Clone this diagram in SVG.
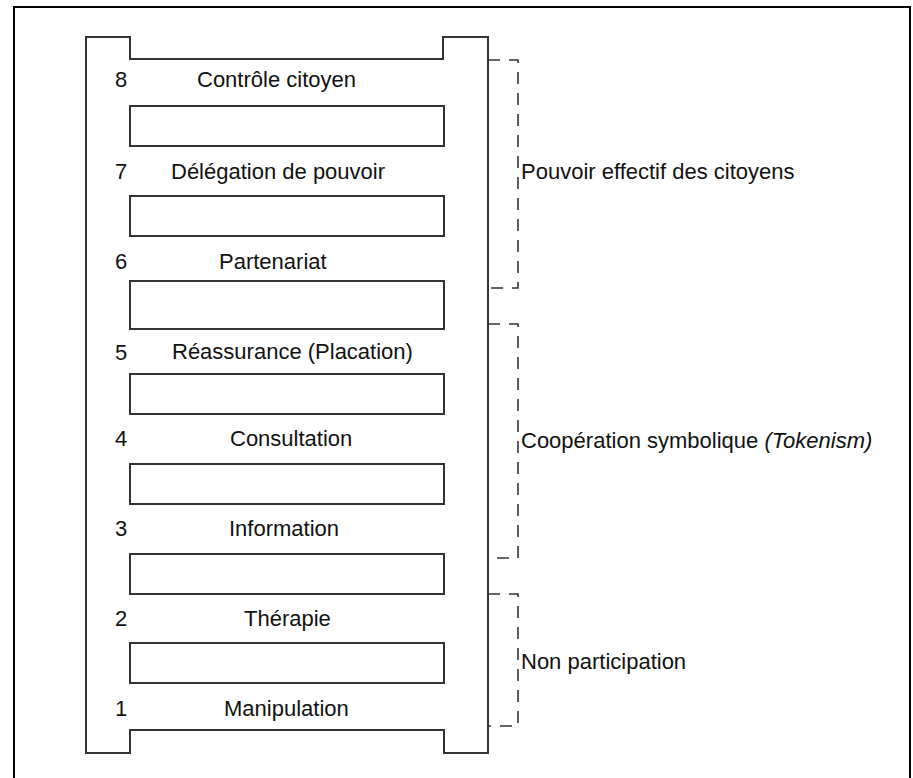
<svg xmlns="http://www.w3.org/2000/svg" width="913" height="778" viewBox="0 0 913 778">
  <style>
    .frame { fill: none; stroke: #000; stroke-width: 2; }
    .rail { fill: none; stroke: #333; stroke-width: 2; }
    .rung { fill: #fff; stroke: #333; stroke-width: 2; }
    .bracket { fill: none; stroke: #333; stroke-width: 1.6; stroke-dasharray: 12 9; }
    text { font-family: "Liberation Sans", Arial, sans-serif; font-size: 22px; fill: #111; }
    .it { font-style: italic; }
  </style>
  <rect width="913" height="778" fill="#fff"/>
  <rect class="frame" x="14" y="7" width="896" height="790"/>

  <g id="ladder">
    <path class="rail" d="M86,37 H130 V59 H443 V37 H488 V753 H444 V730 H130 V753 H86 Z"/>
  </g>

  <g id="level-8">
    <text x="115" y="87">8</text>
    <text x="197" y="87">Contrôle citoyen</text>
    <rect class="rung" x="130" y="106" width="314" height="40"/>
  </g>
  <g id="level-7">
    <text x="115" y="179">7</text>
    <text x="171" y="179">Délégation de pouvoir</text>
    <rect class="rung" x="130" y="196" width="314" height="40"/>
  </g>
  <g id="level-6">
    <text x="115" y="269">6</text>
    <text x="219" y="269">Partenariat</text>
    <rect class="rung" x="130" y="281" width="314" height="48"/>
  </g>
  <g id="level-5">
    <text x="115" y="360">5</text>
    <text x="172" y="359">Réassurance (Placation)</text>
    <rect class="rung" x="130" y="374" width="314" height="40"/>
  </g>
  <g id="level-4">
    <text x="115" y="446">4</text>
    <text x="230" y="446">Consultation</text>
    <rect class="rung" x="130" y="464" width="314" height="40"/>
  </g>
  <g id="level-3">
    <text x="115" y="536">3</text>
    <text x="229" y="536">Information</text>
    <rect class="rung" x="130" y="554" width="314" height="40"/>
  </g>
  <g id="level-2">
    <text x="115" y="626">2</text>
    <text x="244" y="626">Thérapie</text>
    <rect class="rung" x="130" y="643" width="314" height="40"/>
  </g>
  <g id="level-1">
    <text x="115" y="716">1</text>
    <text x="224" y="716">Manipulation</text>
  </g>

  <g id="connectors">
    <path class="bracket" d="M488,60 H518 V288 H488"/>
    <path class="bracket" d="M488,324 H518 V558 H488"/>
    <path class="bracket" d="M488,594 H518 V726 H488"/>
  </g>

  <g id="group-power">
    <text x="521" y="179">Pouvoir effectif des citoyens</text>
  </g>
  <g id="group-tokenism">
    <text x="521" y="448">Coopération symbolique <tspan class="it">(Tokenism)</tspan></text>
  </g>
  <g id="group-nonparticipation">
    <text x="521" y="669">Non participation</text>
  </g>
</svg>
